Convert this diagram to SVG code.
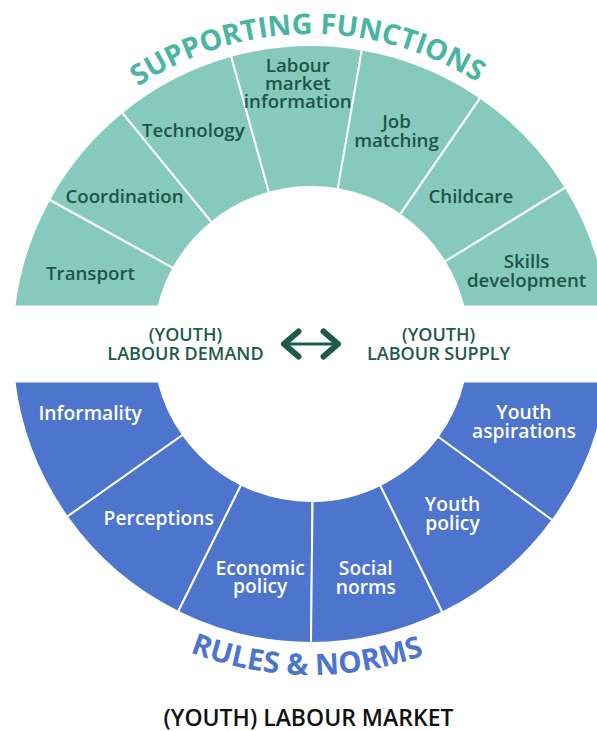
<svg xmlns="http://www.w3.org/2000/svg" width="597" height="731" viewBox="0 0 597 731">
<style>
  .top { fill: #86cabd; stroke: #ffffff; stroke-width: 2; stroke-linejoin: round; }
  .bot { fill: #4d75cd; stroke: #ffffff; stroke-width: 2; stroke-linejoin: round; }
  .lt { font-family: "Open Sans", "Noto Sans", "Liberation Sans", sans-serif; font-size: 18.7px; font-weight: 600; fill: #1f5448; text-anchor: middle; }
  .lb { font-family: "Open Sans", "Noto Sans", "Liberation Sans", sans-serif; font-size: 19.3px; font-weight: 600; fill: #ffffff; text-anchor: middle; }
  .mid { font-family: "Open Sans", "Noto Sans", "Liberation Sans", sans-serif; font-size: 18px; font-weight: 600; fill: #1f5a4b; text-anchor: middle; }
  .title { font-family: "Open Sans", "Noto Sans", "Liberation Sans", sans-serif; font-weight: 700; text-anchor: middle; }
  .arr { fill: none; stroke: #1f5a4b; stroke-linecap: round; stroke-linejoin: round; }
</style>
<defs>
  <path id="arcTop" d="M 1 344 A 310 310 0 0 1 621 344"/>
  <path id="arcBot" d="M -20 344 A 331 331 0 0 0 642 344"/>
</defs>

<g id="supporting-functions">
  <g id="transport">
    <path class="top" d="M14.36,306.5 A299,299 0 0 1 49.2,199.5 L173.5,268.1 A157,157 0 0 0 158.55,306.5 Z"/>
    <text class="lt" x="90.5" y="280">Transport</text>
  </g>
  <g id="coordination">
    <path class="top" d="M49.2,199.5 A299,299 0 0 1 122,112.3 L211.8,222.3 A157,157 0 0 0 173.5,268.1 Z"/>
    <text class="lt" x="124.5" y="202.5">Coordination</text>
  </g>
  <g id="technology">
    <path class="top" d="M122,112.3 A299,299 0 0 1 231.1,55.9 L269.05,192.7 A157,157 0 0 0 211.8,222.3 Z"/>
    <text class="lt" x="193.3" y="136.5">Technology</text>
  </g>
  <g id="labour-market-information">
    <path class="top" d="M231.1,55.9 A299,299 0 0 1 361.9,49.4 L337.7,189.3 A157,157 0 0 0 269.05,192.7 Z"/>
    <text class="lt" x="297.8" y="71.7">Labour</text>
    <text class="lt" x="297.8" y="90">market</text>
    <text class="lt" x="297.8" y="108.3">information</text>
  </g>
  <g id="job-matching">
    <path class="top" d="M361.9,49.4 A299,299 0 0 1 480.4,97.6 L399.9,214.6 A157,157 0 0 0 337.7,189.3 Z"/>
    <text class="lt" x="396.5" y="128.3">Job</text>
    <text class="lt" x="396.5" y="146.7">matching</text>
  </g>
  <g id="childcare">
    <path class="top" d="M480.4,97.6 A299,299 0 0 1 565.7,187.3 L444.7,261.7 A157,157 0 0 0 399.9,214.6 Z"/>
    <text class="lt" x="470.8" y="202.5">Childcare</text>
  </g>
  <g id="skills-development">
    <path class="top" d="M565.7,187.3 A299,299 0 0 1 607.64,306.5 L463.45,306.5 A157,157 0 0 0 444.7,261.7 Z"/>
    <text class="lt" x="526.6" y="268.3">Skills</text>
    <text class="lt" x="526.6" y="286.7">development</text>
  </g>
  <text class="title" font-size="28.6" fill="#4bb5a3"><textPath href="#arcTop" startOffset="49.6%">SUPPORTING FUNCTIONS</textPath></text>
</g>

<g id="rules-norms">
  <g id="informality">
    <path class="bot" d="M14.36,381.5 A299,299 0 0 0 67,516.8 L182.9,434.7 A157,157 0 0 1 158.55,381.5 Z"/>
    <text class="lb" x="90.2" y="420">Informality</text>
  </g>
  <g id="perceptions">
    <path class="bot" d="M67,516.8 A299,299 0 0 0 178.1,611.8 L241.2,484.6 A157,157 0 0 1 182.9,434.7 Z"/>
    <text class="lb" x="158.8" y="525">Perceptions</text>
  </g>
  <g id="economic-policy">
    <path class="bot" d="M178.1,611.8 A299,299 0 0 0 311,643 L312.5,501 A157,157 0 0 1 241.2,484.6 Z"/>
    <text class="lb" x="260.2" y="575">Economic</text>
    <text class="lb" x="260.2" y="593.3">policy</text>
  </g>
  <g id="social-norms">
    <path class="bot" d="M311,643 A299,299 0 0 0 442.5,612.5 L380.1,485 A157,157 0 0 1 312.5,501 Z"/>
    <text class="lb" x="365.8" y="575">Social</text>
    <text class="lb" x="365.8" y="594.3">norms</text>
  </g>
  <g id="youth-policy">
    <path class="bot" d="M442.5,612.5 A299,299 0 0 0 552.6,520.2 L437.9,436.5 A157,157 0 0 1 380.1,485 Z"/>
    <text class="lb" x="452.5" y="510.7">Youth</text>
    <text class="lb" x="452.5" y="530">policy</text>
  </g>
  <g id="youth-aspirations">
    <path class="bot" d="M552.6,520.2 A299,299 0 0 0 607.64,381.5 L463.45,381.5 A157,157 0 0 1 437.9,436.5 Z"/>
    <text class="lb" x="523.9" y="419">Youth</text>
    <text class="lb" x="523.9" y="438.3">aspirations</text>
  </g>
  <text class="title" font-size="29.5" fill="#4d75cd"><textPath href="#arcBot" startOffset="49.6%">RULES &amp; NORMS</textPath></text>
</g>

<g id="labour-demand">
  <text class="mid" x="185.5" y="340.5">(YOUTH)</text>
  <text class="mid" x="185.5" y="360">LABOUR DEMAND</text>
</g>
<g id="labour-supply">
  <text class="mid" x="438.6" y="340.5">(YOUTH)</text>
  <text class="mid" x="438.6" y="360">LABOUR SUPPLY</text>
</g>

<g id="connectors">
  <path class="arr" stroke-width="3" d="M285,344 L337,344"/>
  <path class="arr" stroke-width="6" d="M298.5,331.5 L284,344 L298.5,356.5"/>
  <path class="arr" stroke-width="6" d="M323.5,331.5 L338,344 L323.5,356.5"/>
</g>

<g id="caption">
  <text x="308.5" y="726" font-family="'Open Sans', 'Noto Sans', 'Liberation Sans', sans-serif" font-size="23" font-weight="600" fill="#111111" text-anchor="middle">(YOUTH) LABOUR MARKET</text>
</g>
</svg>
